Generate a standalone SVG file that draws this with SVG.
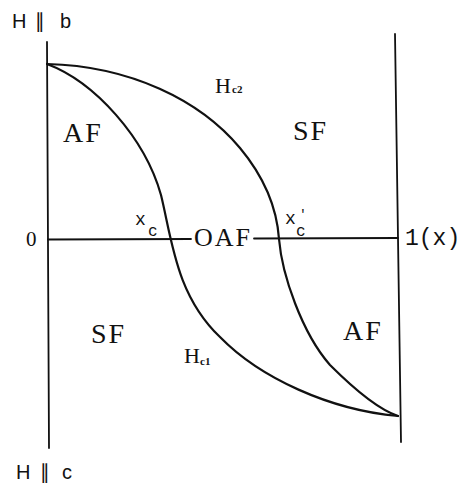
<svg xmlns="http://www.w3.org/2000/svg" width="464" height="483" viewBox="0 0 464 483">
<style>
.ax{fill:none;stroke:#111;stroke-width:1.8;stroke-linecap:round}
.cv{fill:none;stroke:#111;stroke-width:2.2;stroke-linecap:round}
.lb{font-family:"Liberation Mono","DejaVu Sans Mono",monospace;fill:#111}
.rg{font-family:"Liberation Serif","DejaVu Serif",serif;fill:#111;letter-spacing:2px}
.ss{font-family:"Liberation Sans","DejaVu Sans",sans-serif;fill:#111}
.hs{font-family:"Liberation Serif","DejaVu Serif",serif;fill:#111}
.sb{font-family:"Liberation Serif","DejaVu Serif",serif;font-weight:bold;fill:#111}
</style>
<rect width="464" height="483" fill="#fff"/>
<g id="axes">
<path class="ax" d="M47,42 L49,448"/>
<path class="ax" d="M395,34 L401,442"/>
<path class="ax" d="M48,239.5 L191,239"/>
<path class="ax" d="M254,238.5 L398,238"/>
</g>
<g id="curves">
<path id="Hc2" class="cv" d="M47,64 C130,66 200,100 240,148 C265,178 277,210 279,239 C282,275 302,333 330,365 C355,390 380,410 398,416"/>
<path id="Hc1" class="cv" d="M47,64 C95,82 145,138 161,195 C172,240 176,295 220,337 C260,378 330,410 398,416"/>
</g>
<g id="labels">
<text class="ss" y="28" font-size="20"><tspan x="12">H</tspan><tspan x="35">∥</tspan><tspan x="60">b</tspan></text>
<text class="ss" y="479" font-size="20"><tspan x="16">H</tspan><tspan x="40">∥</tspan><tspan x="62">c</tspan></text>
<text class="rg" x="63" y="142" font-size="28">AF</text>
<text class="rg" x="293" y="140" font-size="28">SF</text>
<text class="rg" x="91" y="343" font-size="28">SF</text>
<text class="rg" x="343" y="340" font-size="28">AF</text>
<text class="rg" x="194" y="246" font-size="26" letter-spacing="0">OAF</text>
<text class="hs" x="26" y="246" font-size="21">0</text>
<text class="lb" x="405" y="245" font-size="23">1(x)</text>
<text class="lb" x="135" y="225" font-size="18">x<tspan x="148" y="236" font-size="16">c</tspan></text>
<text class="lb" x="285" y="224" font-size="18">x<tspan x="299" y="218" font-size="13">′</tspan><tspan x="296" y="236" font-size="16">c</tspan></text>
<text class="hs" x="215" y="93" font-size="22">H<tspan class="sb" x="232" y="93" font-size="11">c2</tspan></text>
<text class="hs" x="184" y="363" font-size="22">H<tspan class="sb" x="200" y="365" font-size="11">c1</tspan></text>
</g>
</svg>
